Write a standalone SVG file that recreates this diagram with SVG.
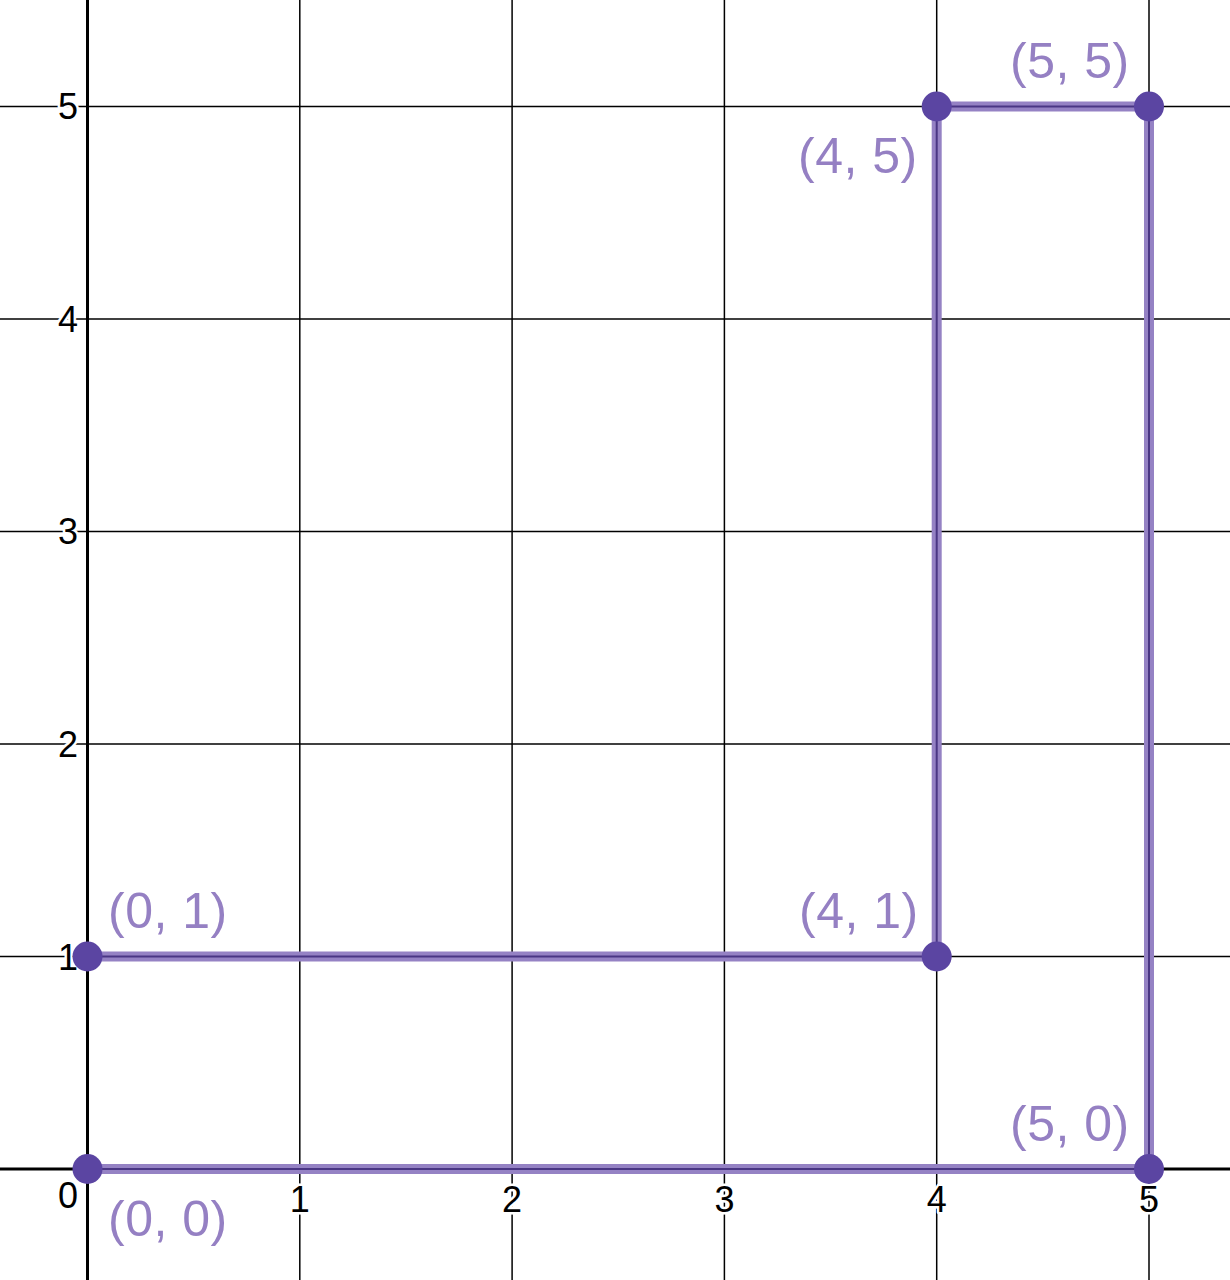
<svg xmlns="http://www.w3.org/2000/svg" width="1230" height="1280" viewBox="0 0 1230 1280">
<style>
.grid{stroke:#000;stroke-width:1.5;fill:none}
.axis{stroke:#000;stroke-width:3;fill:none}
.tick{font-family:"Liberation Sans",Arial,sans-serif;font-size:36px;fill:#000;stroke:#fff;stroke-width:5;paint-order:stroke;stroke-linejoin:round}
.tx{text-anchor:middle}
.ty{text-anchor:end}
.lbl{font-family:"Liberation Sans",Arial,sans-serif;font-size:50px;letter-spacing:0.5px;fill:#9580c3}
.outer{stroke:#9582c4;stroke-width:10;fill:none;stroke-linejoin:miter}
.inner{stroke:#4a3684;stroke-width:2;fill:none}
.pt{fill:#5b45a2}
</style>
<rect width="1230" height="1280" fill="#fff"/>
<g id="grid">
<line class="grid" x1="299.8" y1="0" x2="299.8" y2="1280"/>
<line class="grid" x1="512.1" y1="0" x2="512.1" y2="1280"/>
<line class="grid" x1="724.4" y1="0" x2="724.4" y2="1280"/>
<line class="grid" x1="936.7" y1="0" x2="936.7" y2="1280"/>
<line class="grid" x1="1149" y1="0" x2="1149" y2="1280"/>
<line class="grid" x1="0" y1="956.5" x2="1230" y2="956.5"/>
<line class="grid" x1="0" y1="744" x2="1230" y2="744"/>
<line class="grid" x1="0" y1="531.5" x2="1230" y2="531.5"/>
<line class="grid" x1="0" y1="319" x2="1230" y2="319"/>
<line class="grid" x1="0" y1="106.5" x2="1230" y2="106.5"/>
<line class="axis" x1="87.5" y1="0" x2="87.5" y2="1280"/>
<line class="axis" x1="0" y1="1169" x2="1230" y2="1169"/>
</g>
<g id="ticks">
<text class="tick tx" x="299.8" y="1212">1</text>
<text class="tick tx" x="512.1" y="1212">2</text>
<text class="tick tx" x="724.4" y="1212">3</text>
<text class="tick tx" x="936.7" y="1212">4</text>
<text class="tick tx" x="1149" y="1212">5</text>
<text class="tick ty" x="78" y="1208">0</text>
<text class="tick ty" x="78" y="970">1</text>
<text class="tick ty" x="78" y="757">2</text>
<text class="tick ty" x="78" y="544">3</text>
<text class="tick ty" x="78" y="332">4</text>
<text class="tick ty" x="78" y="119">5</text>
</g>
<g id="connectors">
<polyline class="outer" points="87.5,1169 1149,1169 1149,106.5 936.7,106.5 936.7,956.5 87.5,956.5"/>
<polyline class="inner" points="87.5,1169 1149,1169 1149,106.5 936.7,106.5 936.7,956.5 87.5,956.5"/>
</g>
<g id="p00"><circle class="pt" cx="87.5" cy="1169" r="15"/><text class="lbl" x="108" y="1236">(0, 0)</text></g>
<g id="p01"><circle class="pt" cx="87.5" cy="956.5" r="15"/><text class="lbl" x="108" y="928">(0, 1)</text></g>
<g id="p41"><circle class="pt" cx="936.7" cy="956.5" r="15"/><text class="lbl" x="799" y="928">(4, 1)</text></g>
<g id="p45"><circle class="pt" cx="936.7" cy="106.5" r="15"/><text class="lbl" x="798" y="173">(4, 5)</text></g>
<g id="p55"><circle class="pt" cx="1149" cy="106.5" r="15"/><text class="lbl" x="1010" y="78">(5, 5)</text></g>
<g id="p50"><circle class="pt" cx="1149" cy="1169" r="15"/><text class="lbl" x="1010" y="1141">(5, 0)</text></g>
</svg>
